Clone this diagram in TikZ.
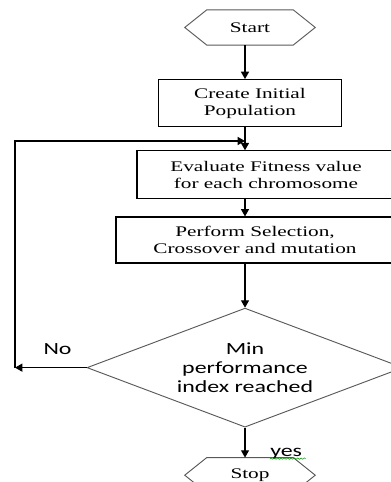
\documentclass[tikz,border=0pt]{standalone}
\usepackage{fontspec}
\newfontfamily\boxfont[FakeStretch=1.45]{Liberation Serif}
\newfontfamily\calfont[FakeStretch=1.4]{Carlito}
\usetikzlibrary{positioning,shapes.geometric,arrows.meta,decorations.pathmorphing}
\begin{document}
\begin{tikzpicture}[>={Triangle[length=5.5pt,width=6pt]},
		term/.style = {minimum width=97.5pt, minimum height=26pt, inner sep=0pt, font=\boxfont\fontsize{11}{13}\selectfont},
		box/.style = {draw, line width=0.9pt, inner sep=0pt, align=center, font=\boxfont\fontsize{11}{13}\selectfont},
		test/.style = {draw=black!65, line width=0.7pt, diamond, aspect=2.66, inner sep=0pt, minimum width=237pt, minimum height=89.25pt, align=center, font=\calfont\fontsize{12.8}{14}\selectfont},
		lbl/.style = {inner sep=0pt, font=\calfont\fontsize{12.8}{14}\selectfont},
		hex/.style = {draw=black!65, line width=0.7pt},
		flow/.style = {->, line width=0.9pt}]
			\useasboundingbox (0,0) rectangle (293.25pt,-361.5pt);

			\node[term] (start) at (187.5pt,-20.6pt) {Start};
			\node[box, minimum width=137.25pt, minimum height=35.25pt] (init) [below=25.5pt of start] {Create Initial\\Population};
			\node[box, minimum width=193.5pt, minimum height=36pt] (eval) [below=17.25pt of init, xshift=12pt] {Evaluate Fitness value\\for each chromosome};
			\node[box, minimum width=208.5pt, minimum height=34.5pt] (sel) [below=12.75pt of eval, xshift=-8.25pt] {Perform Selection,\\Crossover and mutation};
			\node[test] (check) [below=33pt of sel, xshift=-7.5pt] {Min\\performance\\index reached};
			\node[term] (stop) [below=22.5pt of check, xshift=3.75pt] {Stop};

			\foreach \n in {start,stop}
				\draw[hex] (\n.west) -- ([xshift=16.5pt]\n.north west) -- ([xshift=-16.5pt]\n.north east) -- (\n.east) -- ([xshift=-16.5pt]\n.south east) -- ([xshift=16.5pt]\n.south west) -- cycle;

			\coordinate (back) at (11.25pt,0 |- check.west);
			\coordinate (join) at (check.north |- 0,-105.75pt);

			\draw[flow] (start.south -| check.north) -- (init.north -| check.north);
			\draw[flow] (init.south -| check.north) -- (eval.north -| check.north);
			\draw[flow] (eval.south -| check.north) -- (sel.north -| check.north);
			\draw[flow] (sel.south -| check.north) -- (check.north);
			\draw[flow] (check.south) -- (stop.north -| check.south);
			\draw[flow] (check.west) -- (back);
			\draw[flow] (back) |- (join);

			\node[lbl] (no) at ([xshift=-21.75pt,yshift=14.25pt]check.west) {No};
			\node[lbl, anchor=base west] (yes) at ([xshift=15pt,yshift=0.75pt]stop.north) {yes};
			\draw[green!60!black, line width=0.4pt, decorate, decoration={snake, amplitude=0.5pt, segment length=2.5pt}] ([yshift=-1.5pt]yes.base west) -- ([xshift=2.5pt,yshift=-1.5pt]yes.base east);
		\end{tikzpicture}
\end{document}
